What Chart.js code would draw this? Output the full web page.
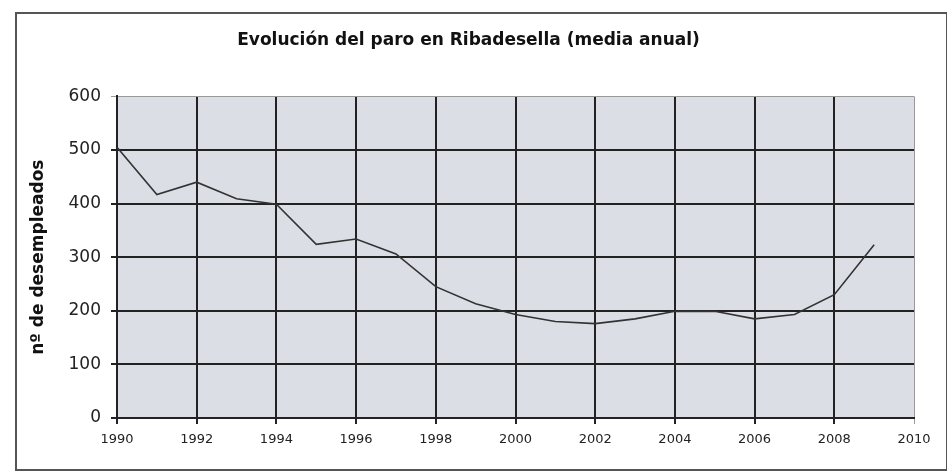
<!DOCTYPE html>
<html>
<head>
<meta charset="utf-8">
<script src="https://cdn.jsdelivr.net/npm/chart.js@4.4.0/dist/chart.umd.min.js"></script>
<style>
  body { margin: 0; background: #fff; }
  #frame { position: absolute; left: 15px; top: 12px; width: 929px; height: 455px; border: 2px solid #555; }
  #wrap { position: absolute; left: 0; top: 0; width: 947px; height: 472px; }
</style>
</head>
<body>
<div id="frame"></div>
<div id="wrap"><canvas id="chart" width="947" height="472"></canvas></div>
<script>
const years = [1990, 1991, 1992, 1993, 1994, 1995, 1996, 1997, 1998, 1999,
               2000, 2001, 2002, 2003, 2004, 2005, 2006, 2007, 2008, 2009];
const parados = [505, 417, 440, 409, 399, 324, 334, 306, 245, 213,
                 193, 180, 176, 185, 199, 199, 185, 193, 230, 323];
const yTicks = [0, 100, 200, 300, 400, 500, 600];
const xTicks = [1990, 1992, 1994, 1996, 1998, 2000, 2002, 2004, 2006, 2008, 2010];

const FONT = '"DejaVu Sans", Verdana, sans-serif';

// grey plot background
const plotBg = {
  id: 'plotBg',
  beforeDraw(chart) {
    const a = chart.chartArea;
    const ctx = chart.ctx;
    ctx.save();
    ctx.fillStyle = '#dbdee5';
    ctx.fillRect(a.left, a.top, a.right - a.left, a.bottom - a.top);
    ctx.restore();
  }
};

new Chart(document.getElementById('chart'), {
  type: 'line',
  data: {
    datasets: [{
      data: years.map((y, i) => ({ x: y, y: parados[i] })),
      borderColor: '#333',
      borderWidth: 1.6,
      pointRadius: 0,
      tension: 0,
      fill: false
    }]
  },
  options: {
    responsive: false,
    animation: false,
    layout: { padding: { left: 0, right: 10, top: 0, bottom: 0 } },
    plugins: {
      legend: { display: false },
      tooltip: { enabled: false },
      title: {
        display: true,
        text: 'Evolución del paro en Ribadesella (media anual)',
        color: '#111',
        font: { family: FONT, size: 17, weight: 'bold' },
        padding: { top: 30, bottom: 46 }
      }
    },
    scales: {
      x: {
        type: 'linear',
        min: 1990,
        max: 2010,
        afterFit(scale) { scale.height = 54; },
        afterBuildTicks(scale) { scale.ticks = xTicks.map(v => ({ value: v })); },
        ticks: {
          color: '#222',
          padding: 8,
          font: { family: FONT, size: 13 },
          maxRotation: 0,
          callback: v => String(v)
        },
        grid: {
          color: ctx => ctx.tick && ctx.tick.value === 2010 ? '#999' : '#222',
          lineWidth: ctx => ctx.tick && ctx.tick.value === 2010 ? 1 : 2,
          tickLength: 6
        },
        border: { color: '#222', width: 2 }
      },
      y: {
        min: 0,
        max: 600,
        afterFit(scale) { scale.width = 117; },
        afterBuildTicks(scale) { scale.ticks = yTicks.map(v => ({ value: v })); },
        ticks: {
          color: '#222',
          padding: 10,
          font: { family: FONT, size: 17 }
        },
        grid: {
          color: ctx => ctx.tick && ctx.tick.value === 600 ? '#999' : '#222',
          lineWidth: ctx => ctx.tick && ctx.tick.value === 600 ? 1 : 2,
          tickLength: 6
        },
        border: { color: '#222', width: 2 },
        title: {
          display: true,
          text: 'nº de desempleados',
          color: '#111',
          font: { family: FONT, size: 17, weight: 'bold' },
          padding: { top: 28, bottom: 0 }
        }
      },
      // empty right axis, only keeps the plot edge at the reference position
      yRight: {
        position: 'right',
        min: 0,
        max: 600,
        afterFit(scale) { scale.width = 23; },
        ticks: { display: false },
        grid: { display: false, drawTicks: false },
        border: { display: false }
      }
    }
  },
  plugins: [plotBg]
});
</script>
</body>
</html>
